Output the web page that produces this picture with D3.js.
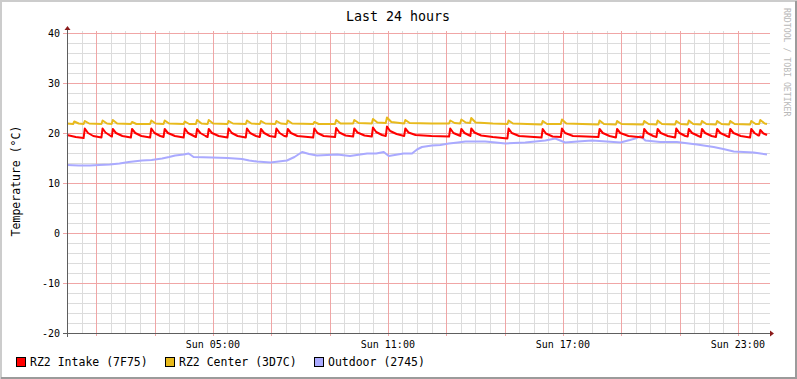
<!DOCTYPE html>
<html>
<head>
<meta charset="utf-8">
<script src="https://cdn.jsdelivr.net/npm/d3@7"></script>
<style>
  html, body { margin: 0; padding: 0; background: #fff; }
  svg { display: block; font-family: "DejaVu Sans Mono", monospace; }
</style>
</head>
<body>
<svg id="chart"></svg>
<script>
var vWidth = 797;
var vHeight = 379;

// time of each point is in hours after Sun 00:00, value in degC
var intake = [
  [0.00,19.6],[0.30,19.2],[0.57,19.0],[0.61,20.9],[0.72,20.0],[0.90,19.4],[1.18,19.1],
  [1.22,20.9],[1.32,20.1],[1.50,19.4],[1.54,19.3],[1.57,20.8],[1.68,20.0],[1.90,19.4],[2.19,19.1],
  [2.23,20.8],[2.34,20.0],[2.55,19.4],[2.85,19.1],
  [2.89,20.9],[3.00,20.0],[3.20,19.4],[3.31,19.2],
  [3.35,20.8],[3.46,20.0],[3.70,19.4],[4.00,19.1],
  [4.04,20.9],[4.15,20.0],[4.35,19.4],[4.42,19.2],
  [4.46,20.8],[4.57,20.0],[4.75,19.4],[4.82,19.2],
  [4.86,20.8],[4.97,20.0],[5.20,19.4],[5.50,19.1],
  [5.54,20.9],[5.65,20.0],[5.85,19.4],[6.13,19.1],
  [6.17,20.9],[6.28,20.0],[6.48,19.4],[6.61,19.2],
  [6.65,20.8],[6.76,20.0],[6.95,19.4],[7.14,19.2],
  [7.18,20.9],[7.29,20.0],[7.45,19.4],[7.53,19.3],
  [7.57,20.8],[7.68,20.0],[7.90,19.4],[8.44,19.1],
  [8.48,20.9],[8.59,20.0],[8.80,19.4],[9.19,19.2],
  [9.23,21.0],[9.34,20.1],[9.55,19.5],[9.81,19.3],
  [9.85,20.9],[9.96,20.1],[10.20,19.5],[10.45,19.3],
  [10.49,21.1],[10.60,20.2],[10.80,19.6],[10.93,19.4],
  [10.97,21.3],[11.08,20.4],[11.30,19.8],[11.56,19.4],
  [11.60,20.9],[11.71,20.1],[11.95,19.6],[12.50,19.4],[13.10,19.3],
  [13.14,20.9],[13.25,20.0],[13.45,19.5],[13.48,19.4],
  [13.52,20.8],[13.63,20.0],[13.80,19.5],[13.83,19.4],
  [13.86,20.9],[13.97,20.1],[14.20,19.5],[14.60,19.2],[15.10,18.9],
  [15.14,20.9],[15.25,20.0],[15.50,19.4],[16.27,19.1],
  [16.31,20.8],[16.42,19.9],[16.65,19.3],[16.93,19.2],
  [16.97,20.9],[17.08,20.0],[17.35,19.4],[17.80,19.3],[18.22,19.2],
  [18.26,20.8],[18.37,20.0],[18.60,19.4],[18.82,19.1],
  [18.86,20.8],[18.97,20.0],[19.25,19.4],[19.75,19.1],
  [19.79,20.8],[19.90,20.0],[20.10,19.4],[20.21,19.2],
  [20.25,20.8],[20.36,20.0],[20.60,19.4],[20.85,19.1],
  [20.89,20.9],[21.00,20.0],[21.20,19.4],[21.28,19.3],
  [21.32,20.8],[21.43,20.0],[21.65,19.4],[21.73,19.2],
  [21.77,20.8],[21.88,20.0],[22.10,19.4],[22.25,19.2],
  [22.29,20.8],[22.40,20.0],[22.62,19.4],[22.70,19.2],
  [22.74,20.8],[22.85,20.0],[23.10,19.4],[23.42,19.1],
  [23.46,20.8],[23.57,20.0],[23.70,19.5],[23.73,19.5],
  [23.77,20.6],[23.88,19.9],[24.00,19.6]
];

var center = [
  [0.00,21.9],[0.21,21.8],[0.25,22.3],[0.40,21.9],[0.57,21.8],[0.61,22.4],[0.76,21.9],
  [1.18,21.8],[1.22,22.5],[1.37,21.9],[1.53,21.8],[1.57,22.6],[1.72,21.9],[2.19,21.8],
  [2.23,22.2],[2.38,21.8],[2.85,21.8],[2.89,22.5],[3.04,21.9],[3.31,21.8],[3.35,22.5],
  [3.50,21.9],[4.00,21.8],[4.04,22.3],[4.19,21.8],[4.42,21.8],[4.46,22.6],[4.61,21.9],
  [4.82,21.8],[4.86,22.6],[5.01,21.9],[5.50,21.8],[5.54,22.4],[5.69,21.9],[6.13,21.8],
  [6.17,22.5],[6.32,21.9],[6.61,21.8],[6.65,22.4],[6.80,21.9],[7.14,21.8],[7.18,22.4],
  [7.33,21.9],[7.53,21.8],[7.57,22.5],[7.72,21.9],[8.44,21.8],[8.48,22.2],[8.63,21.8],
  [9.19,21.8],[9.23,22.6],[9.38,21.9],[9.81,21.9],[9.85,22.6],[10.00,22.0],[10.45,21.9],
  [10.49,22.8],[10.64,22.1],[10.93,22.0],[10.97,23.1],[11.12,22.2],[11.56,21.9],[11.60,22.6],
  [11.75,22.0],[12.50,21.9],[13.10,21.9],[13.14,22.5],[13.29,22.0],[13.48,21.9],[13.52,22.7],
  [13.67,22.1],[13.82,22.0],[13.86,23.0],[14.01,22.1],[14.60,21.9],[15.10,21.8],[15.14,22.5],
  [15.29,21.9],[16.27,21.7],[16.31,22.4],[16.46,21.8],[16.93,21.8],[16.97,22.7],[17.12,21.9],
  [18.22,21.7],[18.26,22.5],[18.41,21.8],[18.82,21.7],[18.86,22.4],[19.01,21.8],[19.75,21.7],
  [19.79,22.4],[19.94,21.8],[20.21,21.7],[20.25,22.5],[20.40,21.8],[20.85,21.7],[20.89,22.4],
  [21.04,21.8],[21.28,21.7],[21.32,22.5],[21.47,21.8],[21.73,21.7],[21.77,22.4],[21.92,21.8],
  [22.25,21.7],[22.29,22.4],[22.44,21.8],[22.70,21.7],[22.74,22.4],[22.89,21.8],[23.42,21.7],
  [23.46,22.4],[23.61,21.8],[23.73,21.8],[23.77,22.6],[23.92,21.9],[24.00,21.8]
];

var outdoor = [
  [0.00,13.6],[0.40,13.5],[0.79,13.5],[1.10,13.6],[1.47,13.7],[1.80,13.9],[2.12,14.2],
  [2.57,14.5],[2.90,14.6],[3.26,14.9],[3.50,15.2],[3.71,15.5],[4.00,15.7],[4.17,15.9],
  [4.34,15.2],[4.97,15.1],[5.50,15.0],[6.00,14.8],[6.25,14.5],[6.51,14.3],[6.97,14.1],
  [7.54,14.5],[7.80,15.2],[8.06,16.2],[8.30,15.8],[8.57,15.5],[9.26,15.7],[9.70,15.4],
  [10.29,15.9],[10.60,15.9],[10.86,16.2],[11.03,15.4],[11.54,15.9],[11.83,15.9],[12.00,16.7],
  [12.17,17.2],[12.51,17.5],[12.80,17.6],[13.09,17.9],[13.40,18.1],[13.66,18.3],[14.34,18.3],
  [14.70,18.1],[15.03,17.9],[15.71,18.1],[16.40,18.5],[16.74,18.9],[17.08,18.1],[17.50,18.3],
  [18.00,18.5],[18.51,18.3],[18.97,18.1],[19.30,18.6],[19.54,19.0],[19.66,19.4],[19.83,18.5],
  [20.34,18.2],[20.91,18.2],[21.60,17.7],[22.17,17.2],[22.50,16.8],[22.86,16.3],[23.20,16.2],
  [23.54,16.1],[24.00,15.7]
];

var seriesNames = ['RZ2 Intake (7F75)', 'RZ2 Center (3D7C)', 'Outdoor (2745)'];
var seriesColors = ['#ff0000', '#e8ba1c', '#aaaaff'];
var yMajorTicks = [-20, -10, 0, 10, 20, 30, 40];

var t0 = new Date(2024, 0, 7, 0, 0);   // a Sunday
var t1 = new Date(2024, 0, 8, 0, 0);
function toDate(h) { return new Date(t0.getTime() + h * 3600e3); }

var x = d3.scaleTime().domain([t0, t1]).range([67, 767]);
var y = d3.scaleLinear().domain([-20, 40]).range([333, 33]);
function px(v) { return Math.round(v) + 0.5; }

var svg = d3.select('#chart')
    .attr('width', vWidth)
    .attr('height', vHeight);

// frame
svg.append('rect').attr('width', vWidth).attr('height', vHeight).attr('fill', '#fff');
svg.append('path').attr('d', 'M1,' + vHeight + 'V1H' + vWidth)
    .attr('fill', 'none').attr('stroke', '#cccccc').attr('stroke-width', 2);
svg.append('path').attr('d', 'M1,' + (vHeight - 1) + 'H' + (vWidth - 1) + 'V1')
    .attr('fill', 'none').attr('stroke', '#9b9b9b').attr('stroke-width', 2);

var grid = svg.append('g').attr('shape-rendering', 'crispEdges');

// minor grid every 30 min / 2 degrees (skipping the major positions)
var minorX = d3.timeMinute.every(30).range(t0, t1).filter(function (d) {
  return d > t0 && !(d.getMinutes() === 0 && d.getHours() % 2 === 1);
});
grid.selectAll('.vmin').data(minorX).enter().append('line')
    .attr('x1', function (d) { return px(x(d)); }).attr('x2', function (d) { return px(x(d)); })
    .attr('y1', 31).attr('y2', 333)
    .attr('stroke', '#dcdcdc');
var minorY = d3.range(-18, 41, 2).filter(function (v) { return v % 10 !== 0; });
grid.selectAll('.hmin').data(minorY).enter().append('line')
    .attr('x1', 67).attr('x2', 770)
    .attr('y1', function (d) { return px(y(d)); }).attr('y2', function (d) { return px(y(d)); })
    .attr('stroke', '#dcdcdc');

// major grid every 2 hours / 10 degrees
var majorX = d3.timeHour.range(t0, t1).filter(function (d) { return d.getHours() % 2 === 1; });
grid.selectAll('.vmaj').data(majorX).enter().append('line')
    .attr('x1', function (d) { return px(x(d)); }).attr('x2', function (d) { return px(x(d)); })
    .attr('y1', 31).attr('y2', 336)
    .attr('stroke', '#f0a6a6');
grid.selectAll('.hmaj').data(yMajorTicks).enter().append('line')
    .attr('x1', 63).attr('x2', 770)
    .attr('y1', function (d) { return px(y(d)); }).attr('y2', function (d) { return px(y(d)); })
    .attr('stroke', '#f0a6a6');

// data lines
var line = d3.line()
    .x(function (d) { return x(toDate(d[0])); })
    .y(function (d) { return y(d[1]); });

[outdoor, center, intake].forEach(function (s, i) {
  svg.append('path')
      .datum(s)
      .attr('d', line)
      .attr('fill', 'none')
      .attr('stroke', seriesColors[2 - i])
      .attr('stroke-width', 2)
      .attr('stroke-linejoin', 'round');
});

// axes
var axes = svg.append('g');
axes.append('line').attr('x1', 63).attr('x2', 771).attr('y1', 333.5).attr('y2', 333.5)
    .attr('stroke', '#5e5e5e').attr('shape-rendering', 'crispEdges');
axes.append('line').attr('x1', 67.5).attr('x2', 67.5).attr('y1', 29).attr('y2', 337)
    .attr('stroke', '#5e5e5e').attr('shape-rendering', 'crispEdges');
axes.append('path').attr('d', 'M770,330.5L774,333.5L770,336.5Z').attr('fill', '#8b1a1a');
axes.append('path').attr('d', 'M64.5,30L67.5,26L70.5,30Z').attr('fill', '#8b1a1a');

// tick labels
var fmt = d3.timeFormat('%a %H:%M');
var labelX = d3.timeHour.range(t0, t1).filter(function (d) { return d.getHours() % 6 === 5; });
svg.selectAll('.xl').data(labelX).enter().append('text')
    .attr('x', function (d) { return x(d); })
    .attr('y', 348)
    .attr('text-anchor', 'middle')
    .attr('font-size', '10px')
    .attr('fill', '#000')
    .text(fmt);

svg.selectAll('.yl').data(yMajorTicks).enter().append('text')
    .attr('x', 60)
    .attr('y', function (d) { return y(d) + 3.5; })
    .attr('text-anchor', 'end')
    .attr('font-size', '10px')
    .attr('fill', '#000')
    .text(function (d) { return d; });

// title, unit, watermark
svg.append('text').attr('x', 398).attr('y', 21).attr('text-anchor', 'middle')
    .attr('font-size', '13.3px').attr('fill', '#000').text('Last 24 hours');
svg.append('text').attr('transform', 'translate(20,181) rotate(-90)')
    .attr('text-anchor', 'middle').attr('font-size', '11.5px').attr('fill', '#000')
    .text('Temperature (°C)');
svg.append('text').attr('transform', 'translate(784,8) rotate(90)')
    .attr('text-anchor', 'start').attr('font-size', '8.2px').attr('fill', '#b8b8b8')
    .text('RRDTOOL / TOBI OETIKER');

// legend
var legendX = [16, 165, 314];
var leg = svg.selectAll('.leg').data(seriesNames).enter().append('g')
    .attr('transform', function (d, i) { return 'translate(' + legendX[i] + ',357)'; });
leg.append('rect').attr('x', 0.5).attr('y', 0.5).attr('width', 9).attr('height', 9)
    .attr('fill', function (d, i) { return seriesColors[i]; })
    .attr('stroke', '#000').attr('shape-rendering', 'crispEdges');
leg.append('text').attr('x', 14).attr('y', 8.5)
    .attr('font-size', '11.5px').attr('fill', '#000')
    .text(function (d) { return d; });
</script>
</body>
</html>
